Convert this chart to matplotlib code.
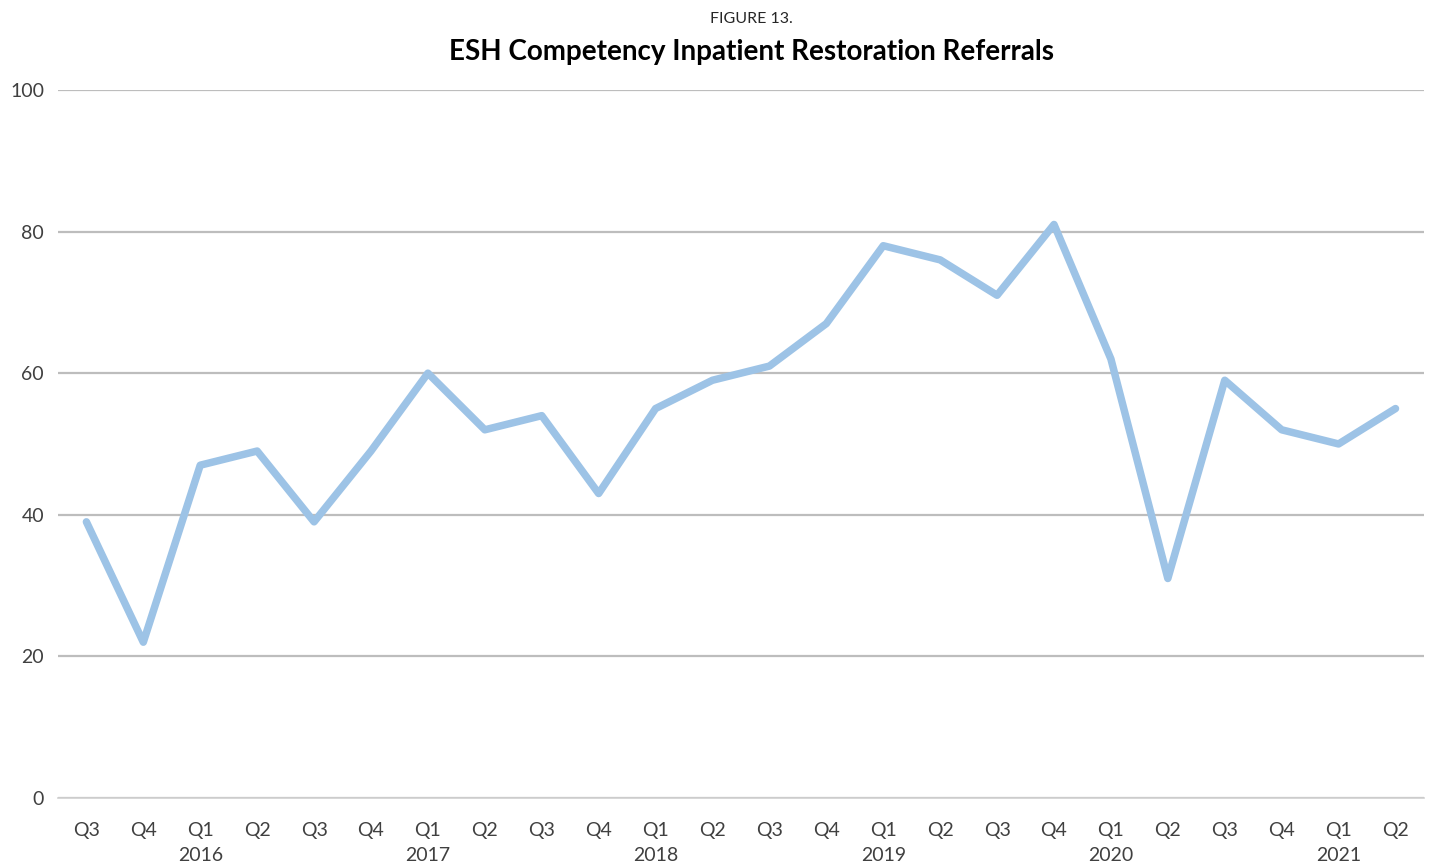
import numpy as np
import matplotlib.pyplot as plt
from matplotlib.transforms import blended_transform_factory

plt.rcParams['font.family'] = ['Lato', 'DejaVu Sans']

# quarterly referrals, Q3 2015 .. Q2 2021
quarters = ['Q3', 'Q4', 'Q1', 'Q2', 'Q3', 'Q4', 'Q1', 'Q2', 'Q3', 'Q4', 'Q1', 'Q2',
            'Q3', 'Q4', 'Q1', 'Q2', 'Q3', 'Q4', 'Q1', 'Q2', 'Q3', 'Q4', 'Q1', 'Q2']
referrals = [39, 22, 47, 49, 39, 49, 60, 52, 54, 43, 55, 59,
             61, 67, 78, 76, 71, 81, 62, 31, 59, 52, 50, 55]
years = ['2016', '2017', '2018', '2019', '2020', '2021']
yearPos = [2, 6, 10, 14, 18, 22]  # index of Q1 of each year

fig = plt.figure(figsize=(14.34, 8.65), dpi=100)
ax = fig.add_axes([0.0404, 0.0775, 0.9526, 0.8185])

xx = np.arange(len(referrals))
ax.plot(xx, referrals, color='#9DC3E6', lw=5.4,
        solid_capstyle='round', solid_joinstyle='round', zorder=3)

ax.set_xlim(-0.5, len(referrals) - 0.5)
ax.set_ylim(0, 100)
ax.set_yticks(np.arange(0, 101, 20))
ax.yaxis.grid(True, color='#BDBDBD', lw=1.6)
ax.set_axisbelow(True)
for s in ['top', 'right', 'left']:
    ax.spines[s].set_visible(False)
ax.spines['bottom'].set_color('#D0D0D0')
ax.spines['bottom'].set_linewidth(1.2)

ax.set_xticks(xx)
ax.set_xticklabels(quarters)
ax.tick_params(axis='both', length=0, labelsize=14, colors='#404040')
ax.tick_params(axis='x', pad=17)
ax.tick_params(axis='y', pad=10)

trans = blended_transform_factory(ax.transData, ax.transAxes)
for pos, yr in zip(yearPos, years):
    ax.text(pos, -0.081, yr, transform=trans, ha='center', va='center',
            fontsize=14, color='#404040')

fig.text(0.524, 0.978, 'FIGURE 13.', ha='center', va='center', fontsize=11.5, color='#262626')
fig.text(0.524, 0.940, 'ESH Competency Inpatient Restoration Referrals', ha='center',
         va='center', fontsize=20, fontweight='bold', color='#000000')

fig.savefig('out.png', dpi=100)
